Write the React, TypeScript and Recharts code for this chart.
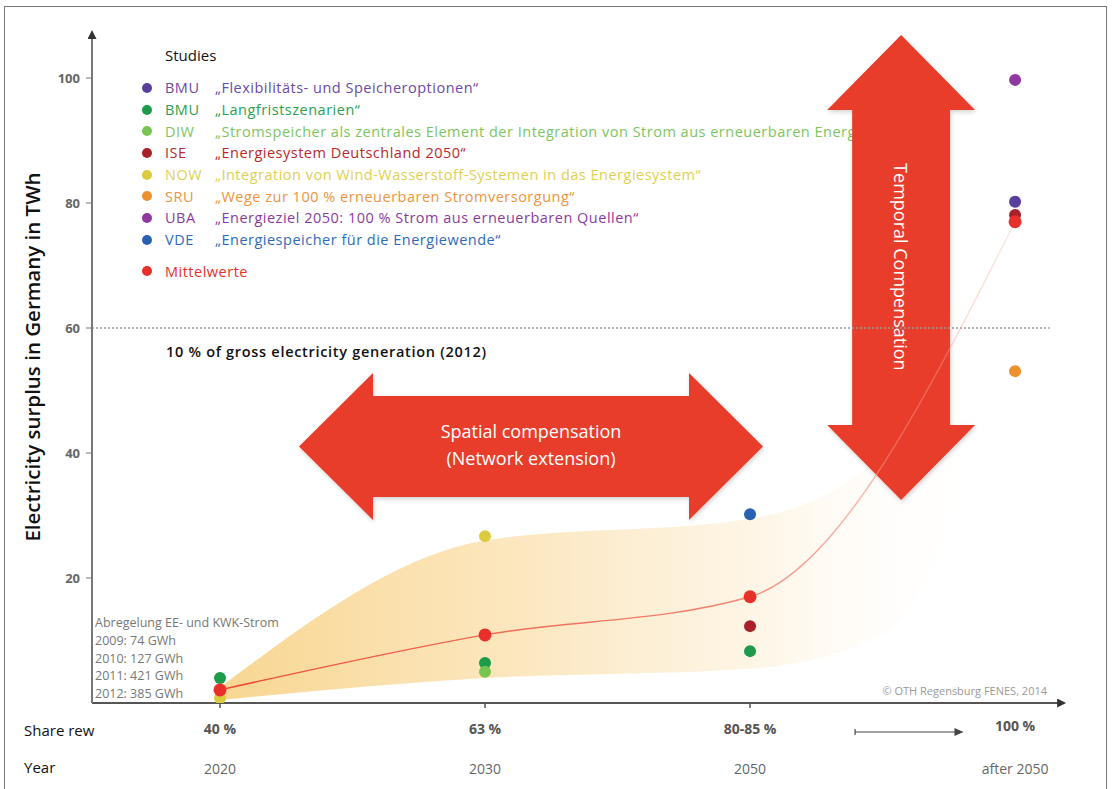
import {
  ComposedChart,
  XAxis,
  YAxis,
  Scatter,
  Line,
  Area,
  ReferenceLine,
  ReferenceArea,
} from "recharts";

// category positions on the numeric x axis: 2020, 2030, 2050, after 2050
const CATEGORY_X = [0, 1, 2, 3];
const SHARE_LABELS = ["40 %", "63 %", "80-85 %", "100 %"];
const YEAR_LABELS = ["2020", "2030", "2050", "after 2050"];
const Y_TICKS = [20, 40, 60, 80, 100];

// TWh surplus per study, aligned with CATEGORY_X (null = no value)
const BMU_FLEX = [null, null, null, 80.2];
const BMU_LANG = [4.0, 6.4, 8.3, null];
const DIW = [null, 5.0, null, null];
const ISE = [null, null, 12.3, 78.1];
const NOW = [0.8, 26.7, null, null];
const SRU = [null, null, null, 53.1];
const UBA = [null, null, null, 99.7];
const VDE = [null, null, 30.2, null];
const MEAN = [2.1, 10.9, 17.0, 77.0];

// shaded range of the studies
const BAND_X = [0, 1, 2, 2.5, 3];
const BAND_LOW = [0.5, 4.0, 5.5, 11, 58];
const BAND_HIGH = [2.5, 26, 29.5, 40, 96];

const THRESHOLD = 60;

const CURTAILMENT = [
  "Abregelung EE- und KWK-Strom",
  "2009: 74 GWh",
  "2010: 127 GWh",
  "2011: 421 GWh",
  "2012: 385 GWh",
];

const STUDIES = [
  { abbr: "BMU", title: "„Flexibilitäts- und Speicheroptionen“", dot: "#5a3e9e", text: "#6a4aa8", values: BMU_FLEX },
  { abbr: "BMU", title: "„Langfristszenarien“", dot: "#1d9a4a", text: "#2aa050", values: BMU_LANG },
  { abbr: "DIW", title: "„Stromspeicher als zentrales Element der Integration von Strom aus erneuerbaren Energien“", dot: "#78c450", text: "#7cc560", values: DIW },
  { abbr: "ISE", title: "„Energiesystem Deutschland 2050“", dot: "#a82028", text: "#b8272e", values: ISE },
  { abbr: "NOW", title: "„Integration von Wind-Wasserstoff-Systemen in das Energiesystem“", dot: "#dccb3e", text: "#e0d050", values: NOW },
  { abbr: "SRU", title: "„Wege zur 100 % erneuerbaren Stromversorgung“", dot: "#ec9030", text: "#ec9440", values: SRU },
  { abbr: "UBA", title: "„Energieziel 2050: 100 % Strom aus erneuerbaren Quellen“", dot: "#8e38a0", text: "#8a3aa0", values: UBA },
  { abbr: "VDE", title: "„Energiespeicher für die Energiewende“", dot: "#2a60b0", text: "#2e6ab8", values: VDE },
];
const MEAN_COLOR = "#e8302a";
const ARROW_RED = "#e83c29";

// annotation arrow boxes in data units
const H_ARROW = { x1: 0.298, x2: 2.049, y1: 29.3, y2: 52.8 };
const V_ARROW = { x1: 2.291, x2: 2.849, y1: 32.5, y2: 106.9 };

const toPoints = (values: (number | null)[]) =>
  values
    .map((v, i) => (v == null ? null : { x: CATEGORY_X[i], y: v }))
    .filter(Boolean) as { x: number; y: number }[];

const bandData = BAND_X.map((x, i) => ({ x, band: [BAND_LOW[i], BAND_HIGH[i]] }));
const meanData = toPoints(MEAN);

const FONT = "'Open Sans', sans-serif";

function XTick(props: any) {
  const { x, y, payload } = props;
  const i = CATEGORY_X.indexOf(payload.value);
  const last = i === CATEGORY_X.length - 1;
  return (
    <g fontFamily={FONT}>
      {!last && <line x1={x} x2={x} y1={y} y2={y + 5} stroke="#555" strokeWidth={1.5} />}
      {last && (
        <g stroke="#444" strokeWidth={1.2}>
          <line x1={x - 160} x2={x - 56} y1={y + 29} y2={y + 29} />
          <line x1={x - 160} x2={x - 160} y1={y + 26} y2={y + 32} />
          <path d={`M${x - 53},${y + 29} L${x - 60},${y + 26} L${x - 60},${y + 32} Z`} fill="#444" />
        </g>
      )}
      <text x={x} y={last ? y + 28 : y + 31} textAnchor="middle" fontSize={14} fontWeight={700} fill="#555">
        {SHARE_LABELS[i]}
      </text>
      <text x={x} y={y + 71} textAnchor="middle" fontSize={14} fill="#666">
        {YEAR_LABELS[i]}
      </text>
    </g>
  );
}

function YTick(props: any) {
  const { x, y, payload } = props;
  return (
    <text x={x} y={y + 5} textAnchor="end" fontSize={13} fontWeight={700} fill="#666" fontFamily={FONT}>
      {payload.value}
    </text>
  );
}

function HArrow(props: any) {
  const { x, y, width: w, height: h } = props;
  const head = 74;
  const s1 = y + h * 0.156;
  const s2 = y + h * 0.844;
  const cy = y + h / 2;
  const pts = [
    [x, cy], [x + head, y], [x + head, s1], [x + w - head, s1], [x + w - head, y],
    [x + w, cy], [x + w - head, y + h], [x + w - head, s2], [x + head, s2], [x + head, y + h],
  ];
  return (
    <g>
      <polygon points={pts.map((p) => p.join(",")).join(" ")} fill={ARROW_RED} filter="url(#arrowShadow)" />
      <text x={x + w / 2} y={cy - 8} textAnchor="middle" fill="#fff" fontSize={18} fontFamily={FONT}>
        Spatial compensation
      </text>
      <text x={x + w / 2} y={cy + 19} textAnchor="middle" fill="#fff" fontSize={18} fontFamily={FONT}>
        (Network extension)
      </text>
    </g>
  );
}

function VArrow(props: any) {
  const { x, y, width: w, height: h } = props;
  const head = 75;
  const s1 = x + w * 0.169;
  const s2 = x + w * 0.831;
  const cx = x + w / 2;
  const pts = [
    [cx, y], [x + w, y + head], [s2, y + head], [s2, y + h - head], [x + w, y + h - head],
    [cx, y + h], [x, y + h - head], [s1, y + h - head], [s1, y + head], [x, y + head],
  ];
  const ty = y + 232;
  return (
    <g>
      <polygon points={pts.map((p) => p.join(",")).join(" ")} fill={ARROW_RED} filter="url(#arrowShadow)" />
      <text
        x={cx}
        y={ty}
        transform={`rotate(90 ${cx} ${ty})`}
        textAnchor="middle"
        dominantBaseline="central"
        fill="#fff"
        fontSize={18}
        fontFamily={FONT}
      >
        Temporal Compensation
      </text>
    </g>
  );
}

export default function App() {
  return (
    <div
      style={{
        position: "absolute",
        left: 0,
        top: 0,
        width: 1114,
        height: 789,
        background: "#fff",
        fontFamily: FONT,
        overflow: "hidden",
      }}
    >
      <div
        style={{
          position: "absolute",
          left: 4,
          top: 6,
          width: 1103,
          height: 800,
          border: "1px solid #777",
          boxSizing: "border-box",
        }}
      />

      {/* legend sits under the chart svg so the vertical arrow covers the long DIW title */}
      <div style={{ position: "absolute", left: 165, top: 45, fontSize: 15, color: "#111" }}>Studies</div>
      <div style={{ position: "absolute", left: 140, top: 77 }}>
        {STUDIES.map((s, k) => (
          <div
            key={k}
            style={{
              display: "flex",
              alignItems: "center",
              height: 21.7,
              whiteSpace: "nowrap",
              fontSize: 14.5,
              letterSpacing: 0.5,
            }}
          >
            <span style={{ flex: "none", width: 10, height: 10, borderRadius: 5, background: s.dot, marginLeft: 2 }} />
            <span style={{ flex: "none", color: s.text, width: 50, marginLeft: 13 }}>{s.abbr}</span>
            <span style={{ flex: "none", color: s.text }}>{s.title}</span>
          </div>
        ))}
        <div style={{ display: "flex", alignItems: "center", height: 21.7, marginTop: 10, fontSize: 14.5, letterSpacing: 0.5 }}>
          <span style={{ width: 10, height: 10, borderRadius: 5, background: MEAN_COLOR, marginLeft: 2 }} />
          <span style={{ color: MEAN_COLOR, marginLeft: 13 }}>Mittelwerte</span>
        </div>
      </div>

      <ComposedChart width={1114} height={789} margin={{ top: 38, right: 56, bottom: 0, left: 0 }}>
        <defs>
          <marker
            id="axArrow"
            viewBox="0 0 10 10"
            refX="1"
            refY="5"
            markerWidth="10"
            markerHeight="9"
            markerUnits="userSpaceOnUse"
            orient="auto-start-reverse"
          >
            <path d="M0,0 L10,5 L0,10 z" fill="#333" />
          </marker>
          <linearGradient id="bandFill" x1="0" y1="0" x2="1" y2="0">
            <stop offset="0%" stopColor="#f8d48c" stopOpacity={0.95} />
            <stop offset="40%" stopColor="#fbe2b2" stopOpacity={0.8} />
            <stop offset="68%" stopColor="#fdefd6" stopOpacity={0.6} />
            <stop offset="82%" stopColor="#fff6ea" stopOpacity={0.25} />
            <stop offset="100%" stopColor="#ffffff" stopOpacity={0} />
          </linearGradient>
          <linearGradient id="meanStroke" x1="0" y1="0" x2="1" y2="0">
            <stop offset="0%" stopColor="#ee4a3a" stopOpacity={1} />
            <stop offset="65%" stopColor="#f06a5a" stopOpacity={0.8} />
            <stop offset="100%" stopColor="#f6b0a8" stopOpacity={0.3} />
          </linearGradient>
          <filter id="arrowShadow" x="-10%" y="-10%" width="120%" height="120%">
            <feDropShadow dx="1" dy="2" stdDeviation="2" floodColor="#000" floodOpacity="0.18" />
          </filter>
        </defs>
        <XAxis
          type="number"
          dataKey="x"
          domain={[-0.483, 3.162]}
          ticks={CATEGORY_X}
          allowDataOverflow
          height={86}
          tickSize={0}
          tickMargin={0}
          tickLine={false}
          axisLine={{ stroke: "#555", strokeWidth: 2, markerEnd: "url(#axArrow)" }}
          tick={<XTick />}
          interval={0}
        />
        <YAxis
          type="number"
          domain={[0, 106.4]}
          ticks={Y_TICKS}
          allowDataOverflow
          width={92}
          tickSize={6}
          tickMargin={6}
          tickLine={{ stroke: "#777" }}
          axisLine={{ stroke: "#777", strokeWidth: 2, markerStart: "url(#axArrow)" }}
          tick={<YTick />}
        />
        <Area
          data={bandData}
          dataKey="band"
          type="monotone"
          stroke="none"
          fill="url(#bandFill)"
          fillOpacity={1}
          isAnimationActive={false}
        />
        <ReferenceLine
          segment={[
            { x: -0.483, y: THRESHOLD },
            { x: 3.13, y: THRESHOLD },
          ]}
          stroke="#999"
          strokeWidth={1.5}
          strokeDasharray="2 2"
        />
        <Line
          data={meanData}
          dataKey="y"
          type="monotone"
          stroke="url(#meanStroke)"
          strokeWidth={1.5}
          dot={false}
          isAnimationActive={false}
        />
        {STUDIES.map((s, k) => (
          <Scatter
            key={k}
            data={toPoints(s.values)}
            dataKey="y"
            isAnimationActive={false}
            shape={(p: any) => <circle cx={p.cx} cy={p.cy} r={6} fill={s.dot} />}
          />
        ))}
        <Scatter
          data={meanData}
          dataKey="y"
          isAnimationActive={false}
          shape={(p: any) => <circle cx={p.cx} cy={p.cy} r={6.5} fill={MEAN_COLOR} />}
        />
        <ReferenceArea {...H_ARROW} ifOverflow="visible" shape={<HArrow />} />
        <ReferenceArea {...V_ARROW} ifOverflow="visible" shape={<VArrow />} />
      </ComposedChart>

      {/* y axis title */}
      <div
        style={{
          position: "absolute",
          left: 32,
          top: 357,
          transform: "translate(-50%, -50%) rotate(-90deg)",
          whiteSpace: "nowrap",
          fontSize: 20.5,
          fontWeight: 600,
          color: "#111",
        }}
      >
        Electricity surplus in Germany in TWh
      </div>

      <div
        style={{
          position: "absolute",
          left: 166,
          top: 342,
          fontSize: 14.5,
          fontWeight: 600,
          letterSpacing: 0.7,
          color: "#111",
        }}
      >
        10 % of gross electricity generation (2012)
      </div>

      {/* curtailment note */}
      <div style={{ position: "absolute", left: 95, top: 614, fontSize: 12.5, lineHeight: "17.8px", color: "#777" }}>
        {CURTAILMENT.map((t, k) => (
          <div key={k}>{t}</div>
        ))}
      </div>

      <div style={{ position: "absolute", right: 1114 - 1047, top: 683, fontSize: 11, color: "#999" }}>
        © OTH Regensburg FENES, 2014
      </div>

      <div style={{ position: "absolute", left: 24, top: 720, fontSize: 15, color: "#111" }}>Share rew</div>
      <div style={{ position: "absolute", left: 24, top: 757, fontSize: 15, color: "#111" }}>Year</div>
    </div>
  );
}
